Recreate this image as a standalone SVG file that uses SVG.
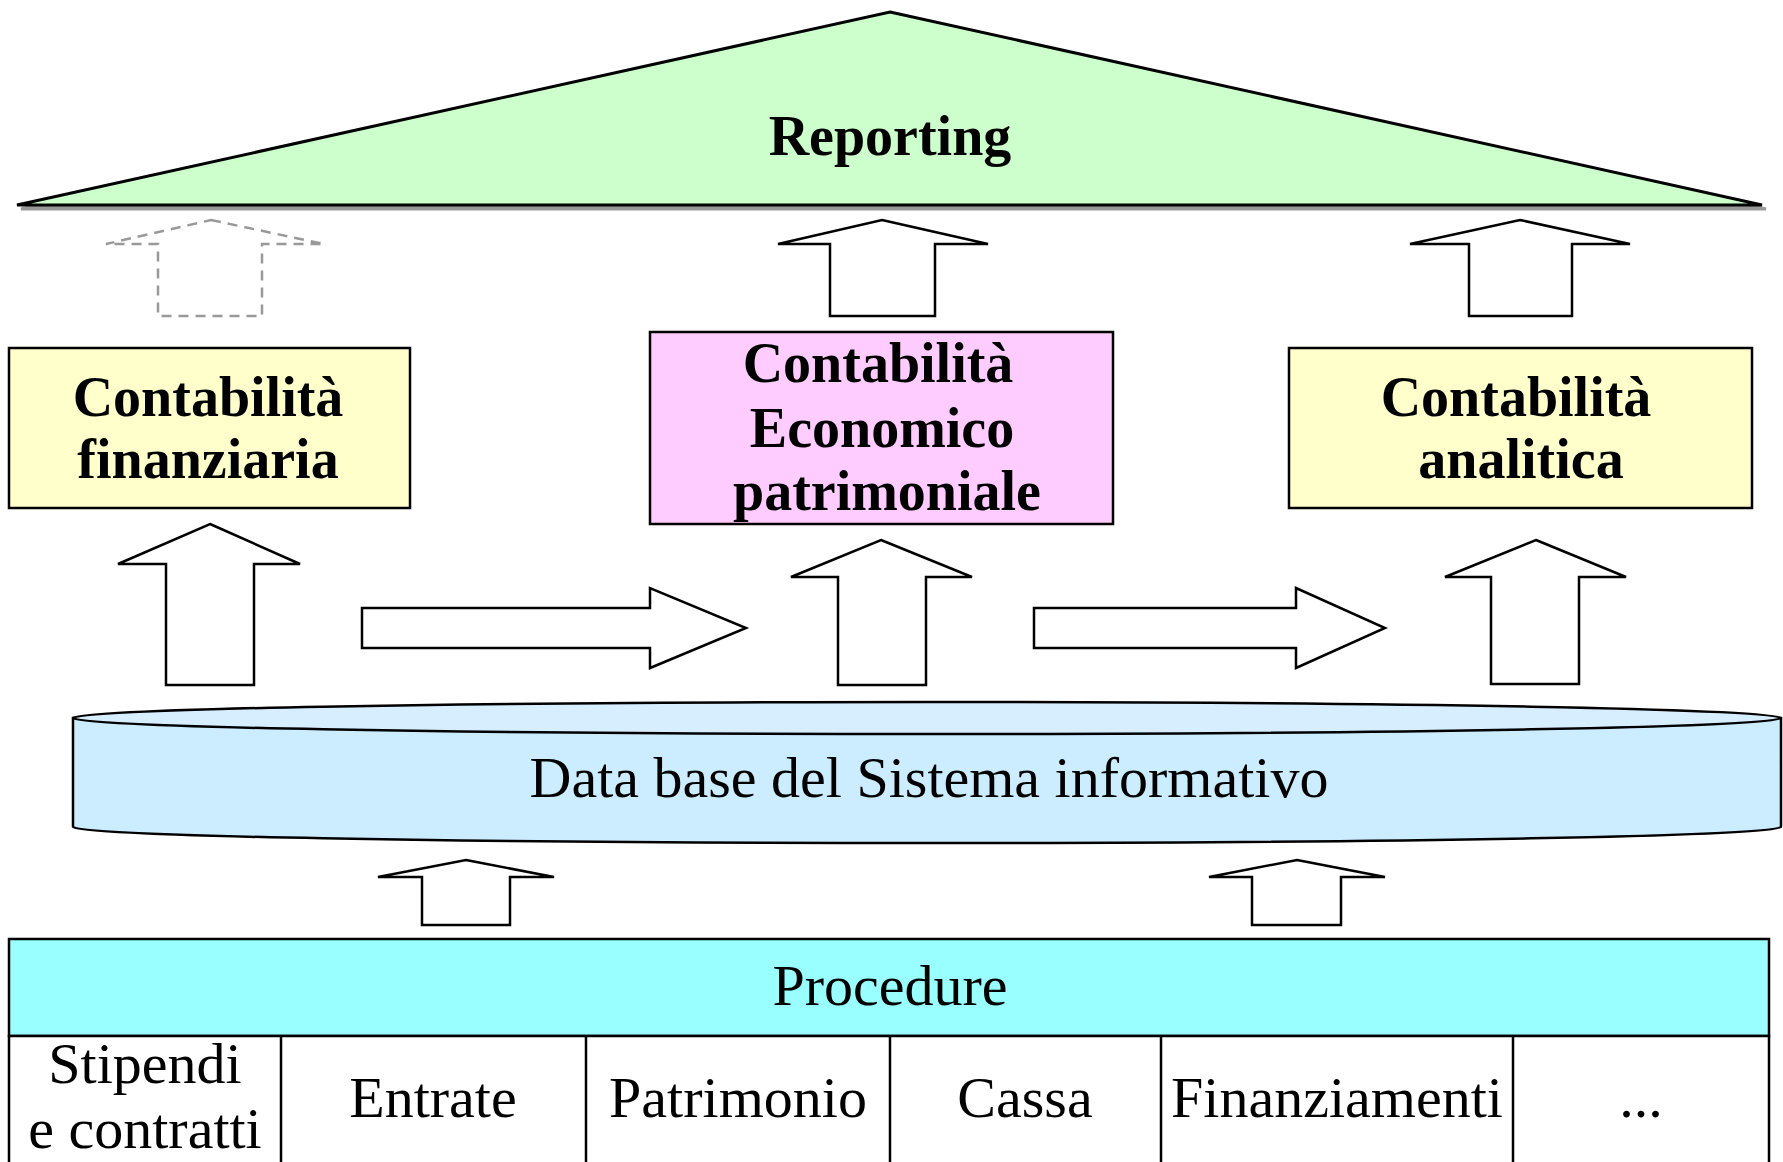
<svg xmlns="http://www.w3.org/2000/svg" width="1783" height="1162" viewBox="0 0 1783 1162">
<style>
.arr{fill:#fff;stroke:#000;stroke-width:2.5;stroke-linejoin:miter}
.dash{fill:none;stroke:#999;stroke-width:2.5;stroke-dasharray:10,7}
.box{stroke:#000;stroke-width:2.5}
.bt{font-family:"Liberation Serif","Times New Roman",serif;font-weight:bold;font-size:56px;text-anchor:middle;fill:#000}
.rt{font-family:"Liberation Serif","Times New Roman",serif;font-size:58px;text-anchor:middle;fill:#000}
</style>
<rect width="1783" height="1162" fill="#fff"/>
<g id="reporting">
<polygon points="894,16 1766,209 21,209" fill="#999" stroke="#999" stroke-width="3"/>
<polygon points="890,12 1762,205 17,205" fill="#CCFFCC" stroke="#000" stroke-width="3" stroke-linejoin="miter"/>
<text class="bt" x="890" y="155" font-size="57">Reporting</text>
</g>
<g id="cont-fin">
<rect class="box" x="9" y="348" width="401" height="160" fill="#FFFFCC"/>
<text class="bt" x="208" y="416">Contabilità</text>
<text class="bt" x="208" y="478">finanziaria</text>
</g>
<g id="cont-eco">
<rect class="box" x="650" y="332" width="463" height="192" fill="#FFCCFF"/>
<text class="bt" x="878" y="382">Contabilità</text>
<text class="bt" x="882" y="447">Economico</text>
<text class="bt" x="887" y="510">patrimoniale</text>
</g>
<g id="cont-ana">
<rect class="box" x="1289" y="348" width="463" height="160" fill="#FFFFCC"/>
<text class="bt" x="1516" y="416">Contabilità</text>
<text class="bt" x="1521" y="478">analitica</text>
</g>
<g id="database">
<path d="M73,718 L73,827 A854,16 0 0 0 1781,827 L1781,718 Z" fill="#CCECFF" stroke="#000" stroke-width="2.5"/>
<ellipse cx="927" cy="718" rx="854" ry="16" fill="#D6EEFF" stroke="#000" stroke-width="2.5"/>
<text class="rt" x="929" y="797">Data base del Sistema informativo</text>
</g>
<g id="procedure">
<rect class="box" x="9" y="939" width="1760" height="97" fill="#99FFFF"/>
<text class="rt" x="890" y="1005">Procedure</text>
<rect class="box" x="9" y="1036" width="1760" height="140" fill="#fff"/>
<line class="box" x1="281" y1="1036" x2="281" y2="1170"/>
<line class="box" x1="586" y1="1036" x2="586" y2="1170"/>
<line class="box" x1="890" y1="1036" x2="890" y2="1170"/>
<line class="box" x1="1161" y1="1036" x2="1161" y2="1170"/>
<line class="box" x1="1513" y1="1036" x2="1513" y2="1170"/>
<text class="rt" x="145" y="1083">Stipendi</text>
<text class="rt" x="145" y="1148">e contratti</text>
<text class="rt" x="433" y="1117">Entrate</text>
<text class="rt" x="738" y="1117">Patrimonio</text>
<text class="rt" x="1025" y="1117">Cassa</text>
<text class="rt" x="1337" y="1117">Finanziamenti</text>
<text class="rt" x="1641" y="1117">...</text>
</g>
<g id="connectors">
<polygon class="dash" points="211,220 324,244 262,244 262,316 158,316 158,244 106,244"/>
<polygon class="arr" points="882,220 988,244 935,244 935,316 830,316 830,244 778,244"/>
<polygon class="arr" points="1520,220 1630,244 1572,244 1572,316 1469,316 1469,244 1410,244"/>
<polygon class="arr" points="210,524 300,564 254,564 254,685 166,685 166,564 118,564"/>
<polygon class="arr" points="881,540 972,577 926,577 926,685 838,685 838,577 791,577"/>
<polygon class="arr" points="1536,540 1626,577 1579,577 1579,684 1491,684 1491,577 1445,577"/>
<polygon class="arr" points="362,608 650,608 650,588 746,628 650,668 650,648 362,648"/>
<polygon class="arr" points="1034,608 1296,608 1296,588 1385,628 1296,668 1296,648 1034,648"/>
<polygon class="arr" points="466,860 554,877 510,877 510,925 422,925 422,877 378,877"/>
<polygon class="arr" points="1297,860 1385,877 1341,877 1341,925 1252,925 1252,877 1209,877"/>
</g>
</svg>
